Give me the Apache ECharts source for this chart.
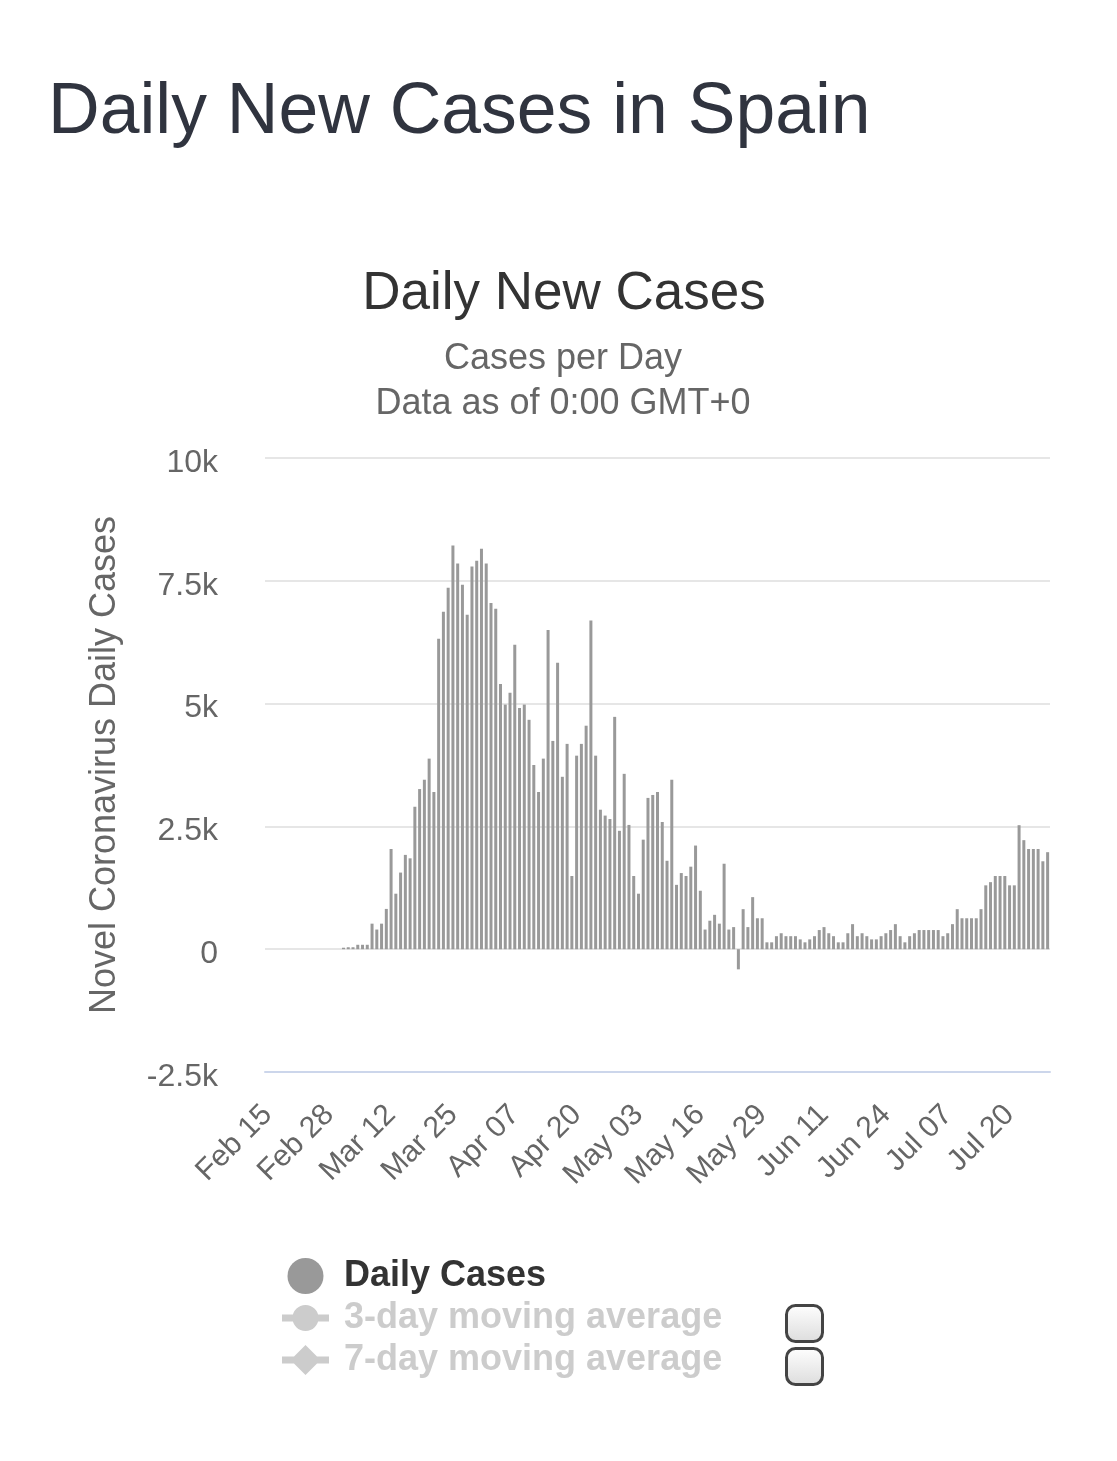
<!DOCTYPE html>
<html>
<head>
<meta charset="utf-8">
<script src="https://cdn.jsdelivr.net/npm/echarts@6/dist/echarts.min.js"></script>
<style>
  html, body { margin: 0; padding: 0; background: #fff; }
  #chart { width: 1117px; height: 1461px; }
</style>
</head>
<body>
<div id="chart"></div>
<script>
// days Feb 15 .. Jul 28
const dates = [
  "Feb 15","Feb 16","Feb 17","Feb 18","Feb 19","Feb 20","Feb 21","Feb 22","Feb 23","Feb 24","Feb 25","Feb 26","Feb 27","Feb 28","Feb 29",
  "Mar 01","Mar 02","Mar 03","Mar 04","Mar 05","Mar 06","Mar 07","Mar 08","Mar 09","Mar 10","Mar 11","Mar 12","Mar 13","Mar 14","Mar 15","Mar 16","Mar 17","Mar 18","Mar 19","Mar 20","Mar 21","Mar 22","Mar 23","Mar 24","Mar 25","Mar 26","Mar 27","Mar 28","Mar 29","Mar 30","Mar 31",
  "Apr 01","Apr 02","Apr 03","Apr 04","Apr 05","Apr 06","Apr 07","Apr 08","Apr 09","Apr 10","Apr 11","Apr 12","Apr 13","Apr 14","Apr 15","Apr 16","Apr 17","Apr 18","Apr 19","Apr 20","Apr 21","Apr 22","Apr 23","Apr 24","Apr 25","Apr 26","Apr 27","Apr 28","Apr 29","Apr 30",
  "May 01","May 02","May 03","May 04","May 05","May 06","May 07","May 08","May 09","May 10","May 11","May 12","May 13","May 14","May 15","May 16","May 17","May 18","May 19","May 20","May 21","May 22","May 23","May 24","May 25","May 26","May 27","May 28","May 29","May 30","May 31",
  "Jun 01","Jun 02","Jun 03","Jun 04","Jun 05","Jun 06","Jun 07","Jun 08","Jun 09","Jun 10","Jun 11","Jun 12","Jun 13","Jun 14","Jun 15","Jun 16","Jun 17","Jun 18","Jun 19","Jun 20","Jun 21","Jun 22","Jun 23","Jun 24","Jun 25","Jun 26","Jun 27","Jun 28","Jun 29","Jun 30",
  "Jul 01","Jul 02","Jul 03","Jul 04","Jul 05","Jul 06","Jul 07","Jul 08","Jul 09","Jul 10","Jul 11","Jul 12","Jul 13","Jul 14","Jul 15","Jul 16","Jul 17","Jul 18","Jul 19","Jul 20","Jul 21","Jul 22","Jul 23","Jul 24","Jul 25","Jul 26","Jul 27","Jul 28"
];

// daily cases
const dailyCases = [
  0, 0, 0, 0, 0, 0, 0, 0, 0, 0, 0, 0, 0, 0, 0, 0,
  30, 40, 40, 90, 90, 90, 520, 400, 520, 820,
  2040, 1130, 1560, 1920, 1850, 2900, 3260, 3450, 3880, 3200,
  6320, 6870, 7360, 8220, 7850, 7420, 6810, 7790, 7910, 8150,
  7850, 7050, 6930, 5400, 4980, 5220, 6200, 4910, 4980, 4670,
  3750, 3200, 3880, 6500, 4240, 5830, 3510, 4180, 1490, 3940,
  4180, 4550, 6690, 3940, 2840, 2720, 2650, 4730, 2410, 3570,
  2530, 1490, 1130, 2230, 3080, 3140, 3200, 2590, 1800, 3450,
  1310, 1550, 1490, 1680, 2110, 1190, 400, 580, 700, 520,
  1740, 400, 450, -410, 815, 450, 1060, 630, 630, 140,
  140, 265, 325, 265, 265, 265, 200, 140, 200, 265,
  390, 450, 325, 265, 140, 140, 325, 510, 265, 325,
  265, 200, 200, 265, 325, 390, 510, 265, 140, 265,
  325, 390, 390, 390, 390, 390, 265, 325, 510, 815,
  630, 630, 630, 630, 815, 1300, 1365, 1490, 1490, 1490,
  1300, 1300, 2525, 2220, 2040, 2040, 2040, 1790, 1975
];

// moving averages are switched off in the legend, nothing drawn
const avg3 = [];
const avg7 = [];

const seriesNames = ["Daily Cases", "3-day moving average", "7-day moving average"];

const font = "Liberation Sans, Arial, Helvetica, sans-serif";

// legend icons: line with a marker in the middle
const iconLineCircle = "path://M0 14.5H47V21.5H0Z M10.5 18A13 13 0 1 1 36.5 18A13 13 0 1 1 10.5 18Z";
const iconLineDiamond = "path://M0 14.5H47V21.5H0Z M23.5 3L38.5 18L23.5 33L8.5 18Z";

let myChart = echarts.init(document.getElementById("chart"));

let option = {
  backgroundColor: "#fff",
  animation: false,
  title: [
    {
      text: "Daily New Cases in Spain",
      left: 43,
      top: 72,
      textStyle: { fontFamily: font, fontSize: 71.5, fontWeight: "normal", color: "#30343f" }
    },
    {
      text: "Daily New Cases",
      left: 559,
      textAlign: "center",
      top: 263,
      textStyle: { fontFamily: font, fontSize: 53, fontWeight: "normal", color: "#333333" }
    },
    {
      text: "Cases per Day",
      left: 558,
      textAlign: "center",
      top: 336,
      textStyle: { fontFamily: font, fontSize: 36, fontWeight: "normal", color: "#666666" }
    },
    {
      text: "Data as of 0:00 GMT+0",
      left: 558,
      textAlign: "center",
      top: 381,
      textStyle: { fontFamily: font, fontSize: 36, fontWeight: "normal", color: "#666666" }
    }
  ],
  grid: {
    left: 265,
    right: 67,
    top: 458,
    height: 614
  },
  legend: {
    orient: "vertical",
    left: 277,
    top: 1253,
    itemWidth: 47,
    itemHeight: 36,
    itemGap: 6,
    inactiveColor: "#cccccc",
    textStyle: { fontFamily: font, fontSize: 36, fontWeight: "bold", color: "#333333", padding: [0, 0, 0, 10] },
    data: [
      { name: seriesNames[0], icon: "circle" },
      { name: seriesNames[1], icon: iconLineCircle },
      { name: seriesNames[2], icon: iconLineDiamond }
    ],
    selected: {
      "3-day moving average": false,
      "7-day moving average": false
    }
  },
  xAxis: {
    type: "category",
    data: dates,
    axisTick: { show: false },
    axisLine: { onZero: false, lineStyle: { color: "#ccd6eb", width: 2 } },
    axisLabel: {
      interval: 12,
      rotate: 45,
      margin: 38,
      fontFamily: font,
      fontSize: 30,
      color: "#666666"
    }
  },
  yAxis: {
    type: "value",
    min: -2500,
    max: 10000,
    interval: 2500,
    name: "Novel Coronavirus Daily Cases",
    nameLocation: "middle",
    nameGap: 142,
    nameTextStyle: { fontFamily: font, fontSize: 36, color: "#666666" },
    axisLine: { show: false },
    axisTick: { show: false },
    splitLine: { lineStyle: { color: "#e6e6e6", width: 2 } },
    axisLabel: {
      margin: 47,
      fontFamily: font,
      fontSize: 32,
      color: "#666666",
      verticalAlign: "top",
      lineHeight: 10,
      formatter: function (v) {
        return v === 0 ? "0" : v / 1000 + "k";
      }
    }
  },
  series: [
    {
      name: seriesNames[0],
      type: "bar",
      data: dailyCases,
      barWidth: 3,
      itemStyle: { color: "#999999" }
    },
    {
      name: seriesNames[1],
      type: "line",
      data: avg3,
      symbol: "circle",
      itemStyle: { color: "#999999" }
    },
    {
      name: seriesNames[2],
      type: "line",
      data: avg7,
      symbol: "diamond",
      itemStyle: { color: "#999999" }
    }
  ],
  graphic: [
    {
      type: "rect",
      left: 785,
      top: 1304,
      shape: { width: 36, height: 36, r: 9 },
      style: {
        stroke: "#444444",
        lineWidth: 3,
        fill: new echarts.graphic.LinearGradient(0, 0, 0, 1, [
          { offset: 0, color: "#ffffff" },
          { offset: 1, color: "#dcdcdc" }
        ])
      }
    },
    {
      type: "rect",
      left: 785,
      top: 1347,
      shape: { width: 36, height: 36, r: 9 },
      style: {
        stroke: "#444444",
        lineWidth: 3,
        fill: new echarts.graphic.LinearGradient(0, 0, 0, 1, [
          { offset: 0, color: "#ffffff" },
          { offset: 1, color: "#dcdcdc" }
        ])
      }
    }
  ]
};

myChart.setOption(option);
</script>
</body>
</html>
